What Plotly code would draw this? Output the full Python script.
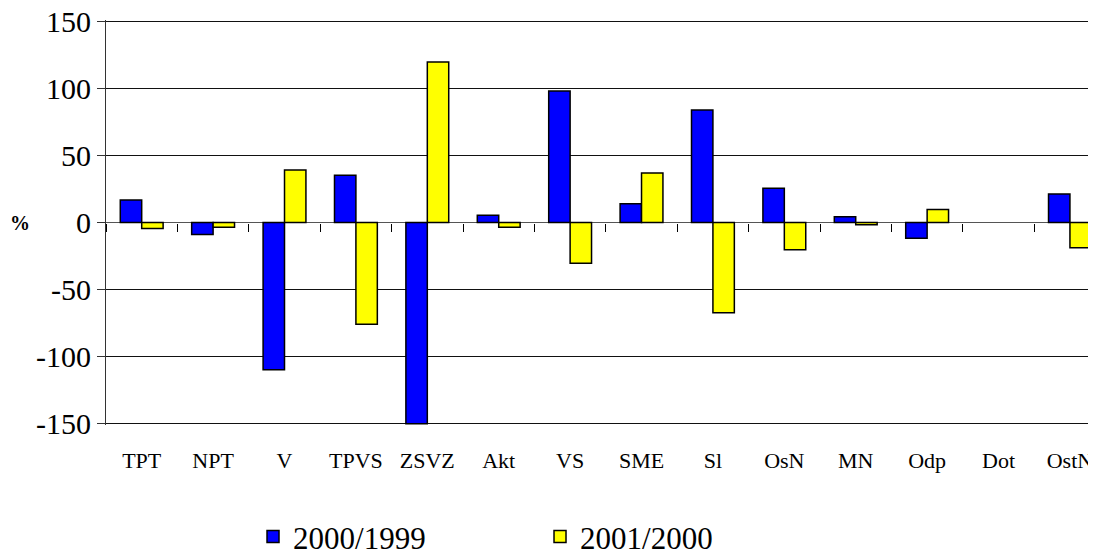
import plotly.graph_objects as go

categories = ["TPT", "NPT", "V", "TPVS", "ZSVZ", "Akt", "VS", "SME", "Sl", "OsN", "MN", "Odp", "Dot", "OstN"]
series_2000_1999 = [16.8, -9.0, -109.8, 35.2, -150.0, 5.4, 98.0, 13.9, 83.9, 25.6, 4.2, -11.7, None, 21.3]
series_2001_2000 = [-4.5, -3.5, 39.2, -75.8, 119.7, -3.5, -30.3, 37.0, -67.3, -20.4, -1.7, 9.7, None, -18.9]
y_ticks = [-150, -100, -50, 0, 50, 100, 150]
y_tick_labels = ["-150", "-100", "-50", "0", "50", "100", "150"]
series_names = ["2000/1999", "2001/2000"]

FONT = "Liberation Serif"

fig = go.Figure()
fig.add_trace(go.Bar(
    x=categories, y=series_2000_1999, name=series_names[0],
    marker=dict(color="#0000FF", line=dict(color="black", width=1.5)),
))
fig.add_trace(go.Bar(
    x=categories, y=series_2001_2000, name=series_names[1],
    marker=dict(color="#FFFF00", line=dict(color="black", width=1.5)),
))
# invisible helper trace so the boundary-tick axis at y=0 is drawn
n = len(categories)
fig.add_trace(go.Scatter(
    x=[-0.5, n - 0.5], y=[0, 0], xaxis="x2", yaxis="y",
    mode="markers", marker=dict(opacity=0), showlegend=False, hoverinfo="skip",
))

x_range = [-0.5, n - 0.5 - 0.135]

fig.update_layout(
    width=1088, height=546,
    margin=dict(l=98, r=0, t=12, b=129, autoexpand=False),
    paper_bgcolor="white", plot_bgcolor="white",
    barmode="group", bargap=0.4, bargroupgap=0,
    font=dict(family=FONT, color="black"),
    showlegend=True,
    legend=dict(
        orientation="h", x=0.1485, xanchor="left", y=-0.276, yanchor="middle",
        font=dict(family=FONT, size=31, color="black"),
        entrywidth=242, entrywidthmode="pixels",
        bgcolor="rgba(0,0,0,0)", itemwidth=30,
    ),
    xaxis=dict(
        type="category", range=x_range, automargin=False,
        showgrid=False, zeroline=False, showline=False,
        ticks="", tickfont=dict(family=FONT, size=22, color="black"),
        ticklabelstandoff=20, ticklabeloverflow="allow",
    ),
    xaxis2=dict(
        overlaying="x", anchor="free", position=0.5, side="bottom",
        range=x_range, showgrid=False, zeroline=False, showline=False,
        tickvals=[i - 0.5 for i in range(n)], ticks="outside",
        ticklen=8, tickwidth=1, tickcolor="black", showticklabels=False,
    ),
    yaxis=dict(
        range=[-151, 151], tickvals=y_ticks, ticktext=y_tick_labels,
        automargin=False, ticklabeloverflow="allow",
        showgrid=True, gridcolor="#111", gridwidth=1,
        zeroline=True, zerolinecolor="#555", zerolinewidth=1,
        showline=True, linecolor="#333", linewidth=1,
        ticks="outside", ticklen=8, tickcolor="#333",
        tickfont=dict(family=FONT, size=30, color="black"),
    ),
    annotations=[dict(
        text="<b>%</b>", xref="paper", yref="y", x=-0.087, y=0,
        xanchor="center", yanchor="middle", showarrow=False,
        font=dict(family=FONT, size=20, color="black"),
    )],
)

fig.write_html("out.html")
